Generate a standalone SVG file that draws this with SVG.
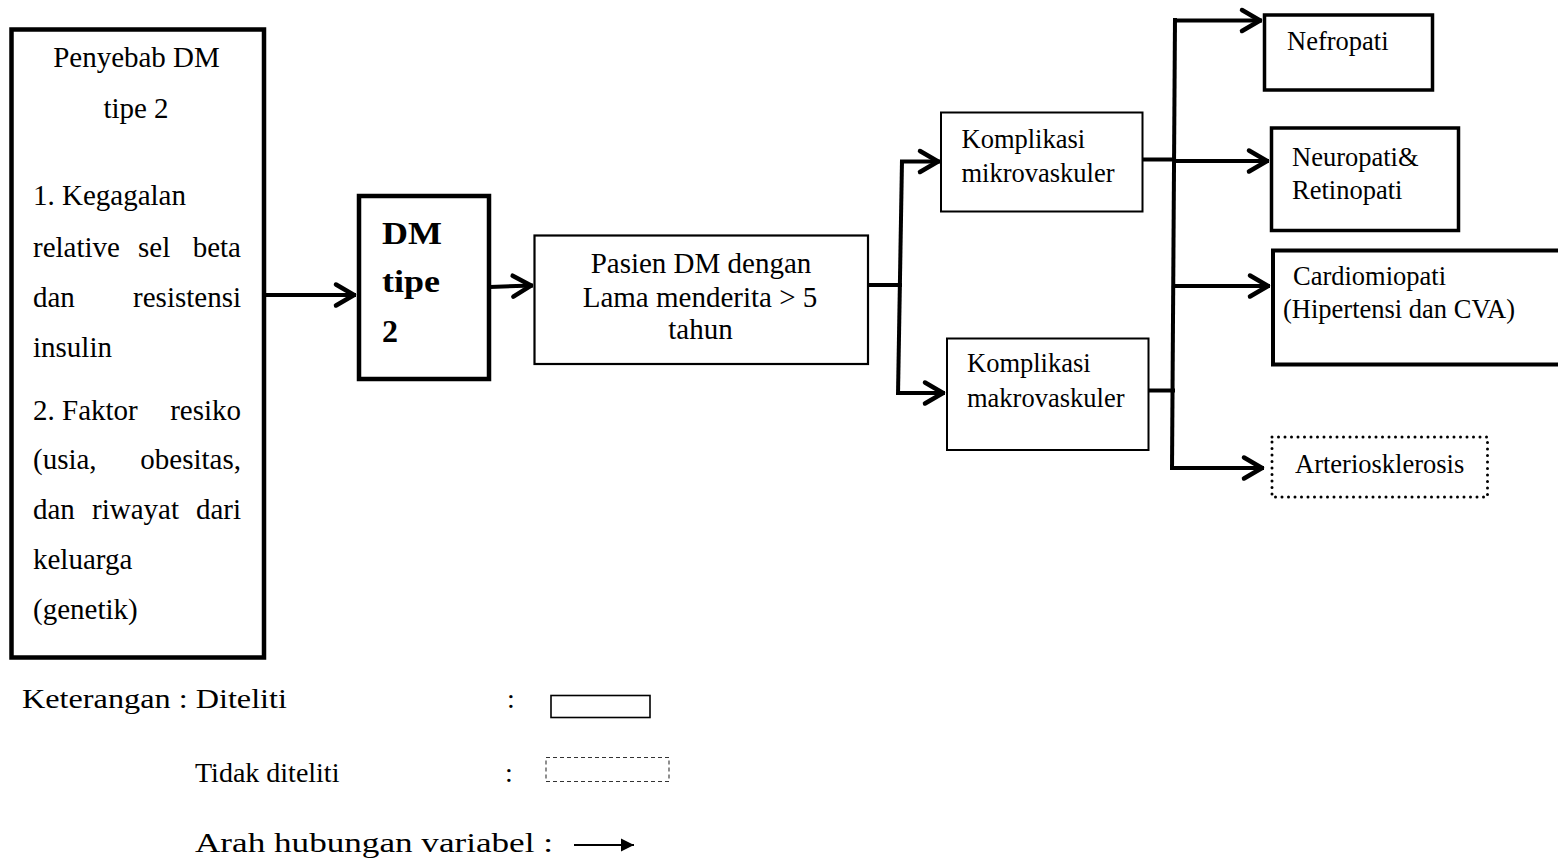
<svg xmlns="http://www.w3.org/2000/svg" width="1558" height="864" viewBox="0 0 1558 864">
<style>
text{font-family:"Liberation Serif","Times New Roman",serif;fill:#000}
.f29{font-size:29px}
.f265{font-size:26.5px}
.f28{font-size:28px}
.bold{font-size:32px;font-weight:bold}
.box{fill:#fff;stroke:#000}
.conn{fill:none;stroke:#000;stroke-width:4;stroke-linecap:butt}
</style>
<defs>
<marker id="chev" markerUnits="userSpaceOnUse" markerWidth="30" markerHeight="30" viewBox="-26 -15 30 30" refX="0" refY="0" orient="auto" overflow="visible">
<path d="M-20,-10.5 L-2,0 L-20,10.5" fill="none" stroke="#000" stroke-width="4.5" stroke-linecap="round" stroke-linejoin="round"/>
</marker>
<marker id="tri" markerUnits="userSpaceOnUse" markerWidth="16" markerHeight="14" viewBox="-14 -7 16 14" refX="0" refY="0" orient="auto" overflow="visible">
<path d="M-13,-6.5 L0,0 L-13,6.5 Z" fill="#000"/>
</marker>
</defs>
<rect width="1558" height="864" fill="#fff"/>

<g id="penyebab" class="f29">
<rect class="box" x="11.5" y="29.5" width="252.5" height="628" stroke-width="4.5"/>
<text x="136.5" y="67" text-anchor="middle">Penyebab DM</text>
<text x="136" y="118" text-anchor="middle">tipe 2</text>
<text x="33" y="205">1. Kegagalan</text>
<text x="33" y="257">relative</text><text x="138" y="257">sel</text><text x="241" y="257" text-anchor="end">beta</text>
<text x="33" y="307">dan</text><text x="241" y="307" text-anchor="end">resistensi</text>
<text x="33" y="357">insulin</text>
<text x="33" y="420">2. Faktor</text><text x="241" y="420" text-anchor="end">resiko</text>
<text x="33" y="469">(usia,</text><text x="241" y="469" text-anchor="end">obesitas,</text>
<text x="33" y="519">dan</text><text x="92" y="519">riwayat</text><text x="241" y="519" text-anchor="end">dari</text>
<text x="33" y="569">keluarga</text>
<text x="33" y="619">(genetik)</text>
</g>

<g id="dm-tipe-2" class="bold">
<rect class="box" x="359" y="196" width="130" height="183" stroke-width="4.5"/>
<text x="382" y="244" textLength="60" lengthAdjust="spacingAndGlyphs">DM</text>
<text x="382" y="292" textLength="58" lengthAdjust="spacingAndGlyphs">tipe</text>
<text x="382" y="342">2</text>
</g>

<g id="pasien" class="f29">
<rect class="box" x="534.5" y="235.5" width="333.5" height="128.5" stroke-width="2.2"/>
<text x="701" y="273" text-anchor="middle">Pasien DM dengan</text>
<text x="700" y="307" text-anchor="middle">Lama menderita &gt; 5</text>
<text x="700.5" y="339" text-anchor="middle">tahun</text>
</g>

<g id="mikro" class="f265">
<rect class="box" x="941" y="112.5" width="201.5" height="99" stroke-width="2"/>
<text x="961.5" y="148">Komplikasi</text>
<text x="961.5" y="182">mikrovaskuler</text>
</g>

<g id="makro" class="f265">
<rect class="box" x="947" y="338.5" width="201.5" height="111.5" stroke-width="2"/>
<text x="967" y="372">Komplikasi</text>
<text x="967" y="407">makrovaskuler</text>
</g>

<g id="nefropati" class="f265">
<rect class="box" x="1264.5" y="15" width="168" height="75" stroke-width="3.5"/>
<text x="1287" y="50">Nefropati</text>
</g>

<g id="neuropati" class="f265">
<rect class="box" x="1271.5" y="128" width="187" height="102.5" stroke-width="3.5"/>
<text x="1292" y="166">Neuropati&amp;</text>
<text x="1292" y="199">Retinopati</text>
</g>

<g id="cardiomiopati" class="f265">
<rect class="box" x="1273" y="250.5" width="400" height="114" stroke-width="4"/>
<text x="1293" y="285">Cardiomiopati</text>
<text x="1283" y="318">(Hipertensi dan CVA)</text>
</g>

<g id="arteriosklerosis" class="f265">
<rect x="1272" y="437" width="215.5" height="60" fill="#fff" stroke="#000" stroke-width="3" stroke-dasharray="0 6.5" stroke-linecap="round"/>
<text x="1295" y="473">Arteriosklerosis</text>
</g>

<g id="connectors" class="conn">
<path d="M265,295 L356,295" marker-end="url(#chev)"/>
<path d="M490,287 L533,285.5" marker-end="url(#chev)"/>
<path d="M868,285 L902,285"/>
<path d="M902,160 L898,395"/>
<path d="M900,161.5 L940,161.5" marker-end="url(#chev)"/>
<path d="M897,393 L945,393" marker-end="url(#chev)"/>
<path d="M1142,159.5 L1176,159.5"/>
<path d="M1175,18 L1172,470"/>
<path d="M1173,20.5 L1262,20.5" marker-end="url(#chev)"/>
<path d="M1175,161 L1269,161" marker-end="url(#chev)"/>
<path d="M1174,286 L1270,286" marker-end="url(#chev)"/>
<path d="M1148,390.5 L1175,390.5"/>
<path d="M1172,468 L1264,468" marker-end="url(#chev)"/>
</g>

<g id="legend" class="f28">
<text x="22" y="708" textLength="265" lengthAdjust="spacingAndGlyphs">Keterangan : Diteliti</text>
<text x="511" y="708" text-anchor="middle">:</text>
<rect x="551" y="695.5" width="99" height="22" fill="#fff" stroke="#000" stroke-width="1.6"/>
<text x="195" y="782">Tidak diteliti</text>
<text x="509" y="782" text-anchor="middle">:</text>
<rect x="546" y="757.5" width="123" height="24" fill="#fff" stroke="#333" stroke-width="1.1" stroke-dasharray="4 3"/>
<text x="195" y="852" textLength="358" lengthAdjust="spacingAndGlyphs">Arah hubungan variabel :</text>
<path d="M574,845 L634,845" fill="none" stroke="#000" stroke-width="2.2" marker-end="url(#tri)"/>
</g>
</svg>
